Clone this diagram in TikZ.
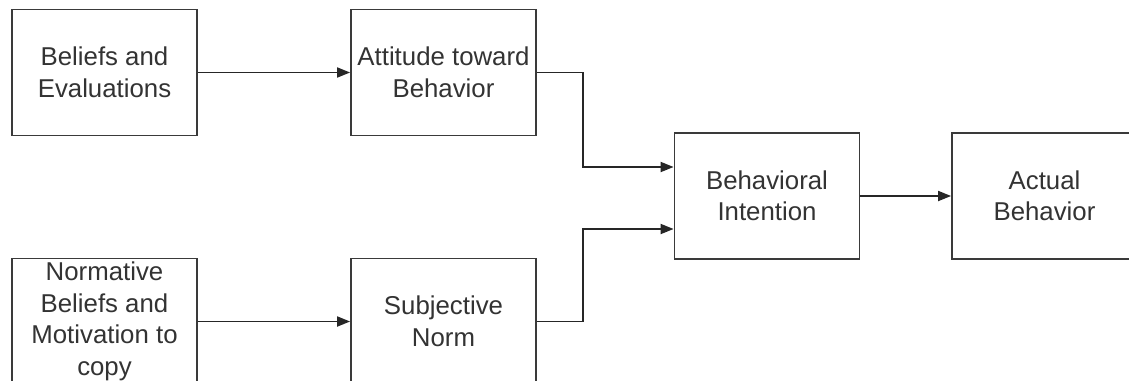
\documentclass[tikz,border=0pt]{standalone}
\usepackage{fontspec}
\setmainfont{Liberation Sans}
\usetikzlibrary{arrows.meta}
\definecolor{boxgray}{HTML}{3A3A3A}
\definecolor{txtgray}{HTML}{333333}
\begin{document}
\begin{tikzpicture}[x=1pt,y=-1pt,
  box/.style={draw=boxgray, line width=1.8pt, fill=white, minimum width=185pt,
    minimum height=126pt, inner sep=0pt, align=center, text=txtgray,
    font=\fontsize{25.8}{31.5}\selectfont},
  conn/.style={draw=black!85, line width=1.8pt, -{Triangle[length=13pt,width=10pt]}}]
\useasboundingbox (0,0) rectangle (1129,380);
\clip (0,0) rectangle (1129,380);
\node[box] (be) at (104.5,72.5) {Beliefs and\\Evaluations};
\node[box] (at) at (443.5,72.5) {Attitude toward\\Behavior};
\node[box] (nb) at (104.5,321.5) {Normative\\Beliefs and\\Motivation to\\copy};
\node[box] (sn) at (443.5,321.5) {Subjective\\Norm};
\node[box] (bi) at (767,196) {Behavioral\\Intention};
\node[box] (ab) at (1044.5,196) {Actual\\Behavior};
\draw[conn] (be.east) -- (at.west);
\draw[conn] (nb.east) -- (sn.west);
\draw[conn] (at.east) -- ++(46pt,0) |- ([yshift=29pt]bi.west);
\draw[conn] (sn.east) -- ++(46pt,0) |- ([yshift=-33pt]bi.west);
\draw[conn] (bi.east) -- (ab.west);
\end{tikzpicture}
\end{document}
